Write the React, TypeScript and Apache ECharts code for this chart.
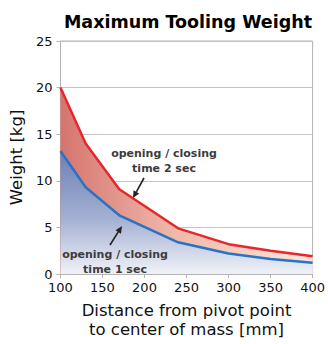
import React, { useEffect, useRef } from "react";
import * as echarts from "echarts";

const distances = [100, 130, 170, 240, 300, 350, 400];
const weight2sec = [20, 14, 9.1, 4.9, 3.2, 2.5, 1.9];
const weight1sec = [13.2, 9.3, 6.3, 3.4, 2.2, 1.6, 1.2];
const yTicks = [0, 5, 10, 15, 20, 25];
const xTicks = [100, 150, 200, 250, 300, 350, 400];

const titleText = "Maximum Tooling Weight";
const yName = "Weight [kg]";
const xName = "Distance from pivot point\nto center of mass [mm]";
const label2 = "opening / closing\ntime 2 sec";
const label1 = "opening / closing\ntime 1 sec";

function arrow(x1: number, y1: number, x2: number, y2: number, color: string) {
  const dx = x2 - x1, dy = y2 - y1;
  const len = Math.sqrt(dx * dx + dy * dy);
  const ux = dx / len, uy = dy / len;
  const hl = 7, hw = 3.2;
  const bx = x2 - ux * hl, by = y2 - uy * hl;
  return [
    { type: "line", shape: { x1, y1, x2: bx, y2: by }, style: { stroke: color, lineWidth: 1.6 }, z: 10 },
    {
      type: "polygon",
      shape: { points: [[x2, y2], [bx - uy * hw, by + ux * hw], [bx + uy * hw, by - ux * hw]] },
      style: { fill: color },
      z: 10,
    },
  ];
}

export default function App() {
  const ref = useRef<HTMLDivElement>(null);
  useEffect(() => {
    if (!ref.current) return;
    const chart = echarts.init(ref.current, null, { renderer: "svg" });
    const font = "DejaVu Sans";
    const txt = "#3c3c3c";
    chart.setOption({
      animation: false,
      backgroundColor: "#ffffff",
      grid: { left: 60, right: 11, top: 41, bottom: 65, show: true, borderColor: "#b4b4b4", borderWidth: 1 },
      xAxis: {
        type: "value",
        min: xTicks[0],
        max: xTicks[xTicks.length - 1],
        interval: 50,
        name: xName,
        nameLocation: "middle",
        nameGap: 27,
        nameTextStyle: { fontFamily: font, fontSize: 16.5, color: "#111", lineHeight: 19 },
        axisLine: { lineStyle: { color: "#b4b4b4" } },
        axisTick: { show: true, length: 4, lineStyle: { color: "#b4b4b4" } },
        axisLabel: { fontFamily: font, fontSize: 13, color: "#111", margin: 7 },
        splitLine: { show: false },
      },
      yAxis: {
        type: "value",
        min: yTicks[0],
        max: yTicks[yTicks.length - 1],
        interval: 5,
        name: yName,
        nameLocation: "middle",
        nameGap: 31,
        nameTextStyle: { fontFamily: font, fontSize: 16.5, color: "#111" },
        axisLine: { show: true, lineStyle: { color: "#b4b4b4" } },
        axisTick: { show: true, length: 4, lineStyle: { color: "#b4b4b4" } },
        axisLabel: { fontFamily: font, fontSize: 13, color: "#111", margin: 8 },
        splitLine: { show: true, lineStyle: { color: "#c4c4c4", width: 1 } },
      },
      series: [
        {
          type: "line",
          data: distances.map((d, i) => [d, weight2sec[i]]),
          symbol: "none",
          lineStyle: { color: "#e8262b", width: 2.5 },
          areaStyle: {
            opacity: 1,
            color: new echarts.graphic.LinearGradient(0, 0, 1, 0, [
              { offset: 0, color: "#d6746f" },
              { offset: 0.45, color: "#efb8aa" },
              { offset: 1, color: "#fbe6de" },
            ]),
          },
          z: 2,
        },
        {
          type: "line",
          data: distances.map((d, i) => [d, weight1sec[i]]),
          symbol: "none",
          lineStyle: { color: "#2a72c2", width: 2.5 },
          areaStyle: {
            opacity: 1,
            color: new echarts.graphic.LinearGradient(0, 0, 0, 1, [
              { offset: 0, color: "#6b80b6" },
              { offset: 0.55, color: "#a3b0d2" },
              { offset: 1, color: "#f0f2f8" },
            ]),
          },
          z: 3,
        },
      ],
      graphic: [
        {
          type: "text",
          x: 188,
          y: 22,
          style: {
            text: titleText,
            fontFamily: font,
            fontSize: 17.5,
            fontWeight: "bold",
            fill: "#000",
            textAlign: "center",
            textVerticalAlign: "middle",
          },
        },
        {
          type: "text",
          x: 164,
          y: 161,
          z: 10,
          style: {
            text: label2,
            fontFamily: font,
            fontSize: 11,
            fontWeight: "bold",
            fill: txt,
            textAlign: "center",
            textVerticalAlign: "middle",
            lineHeight: 15,
          },
        },
        {
          type: "text",
          x: 115,
          y: 262,
          z: 10,
          style: {
            text: label1,
            fontFamily: font,
            fontSize: 11,
            fontWeight: "bold",
            fill: txt,
            textAlign: "center",
            textVerticalAlign: "middle",
            lineHeight: 15,
          },
        },
        ...arrow(144, 178, 133, 198, "#222"),
        ...arrow(110, 245, 122, 226, "#222"),
      ],
    });
    return () => chart.dispose();
  }, []);
  return <div ref={ref} style={{ position: "fixed", left: 0, top: 0, width: 328, height: 344 }} />;
}
